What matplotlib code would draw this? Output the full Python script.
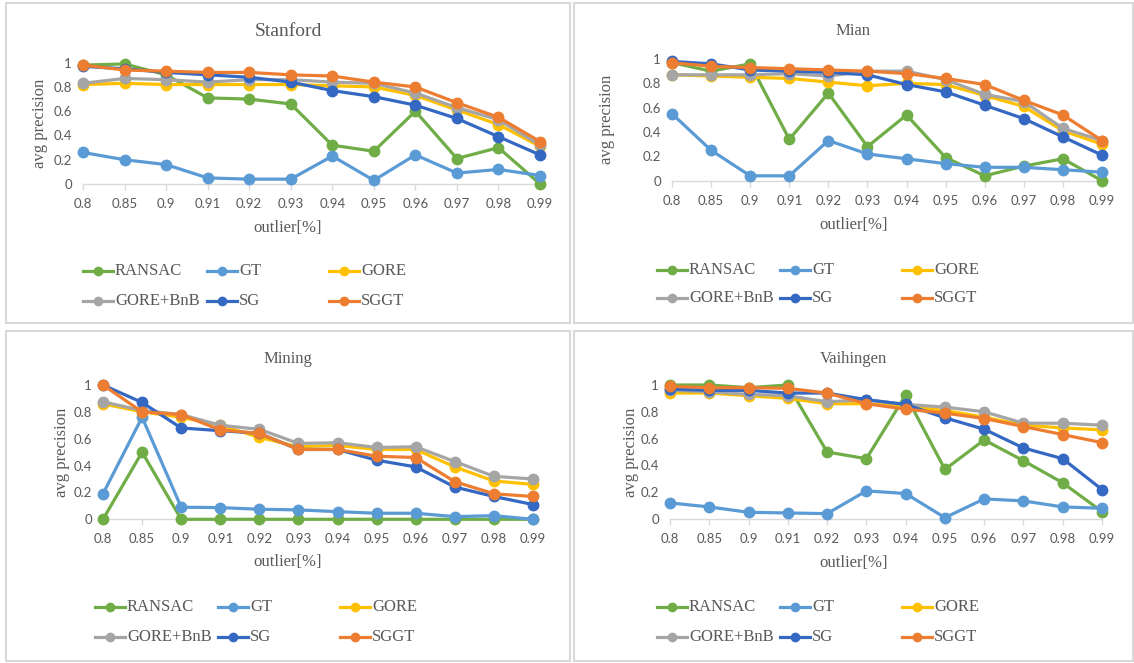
import matplotlib.pyplot as plt
from matplotlib.lines import Line2D
from matplotlib.patches import Rectangle

W, H = 1134, 663

outliers = ['0.8', '0.85', '0.9', '0.91', '0.92', '0.93', '0.94', '0.95', '0.96', '0.97', '0.98', '0.99']
methods = ['RANSAC', 'GT', 'GORE', 'GORE+BnB', 'SG', 'SGGT']
colors = ['#70AD47', '#5B9BD5', '#FFC000', '#A5A5A5', '#3568C2', '#ED7D31']

# avg precision per method, per dataset
stanford_ransac = [0.98, 0.99, 0.90, 0.71, 0.70, 0.66, 0.32, 0.27, 0.60, 0.21, 0.30, 0.00]
stanford_gt = [0.26, 0.20, 0.16, 0.05, 0.04, 0.04, 0.23, 0.03, 0.24, 0.09, 0.12, 0.07]
stanford_gore = [0.82, 0.83, 0.82, 0.82, 0.82, 0.82, 0.81, 0.80, 0.73, 0.61, 0.49, 0.31]
stanford_bnb = [0.83, 0.87, 0.86, 0.84, 0.86, 0.86, 0.84, 0.83, 0.75, 0.63, 0.53, 0.32]
stanford_sg = [0.97, 0.95, 0.92, 0.90, 0.88, 0.84, 0.77, 0.72, 0.65, 0.54, 0.39, 0.24]
stanford_sggt = [0.98, 0.94, 0.93, 0.92, 0.92, 0.90, 0.89, 0.84, 0.80, 0.67, 0.55, 0.35]

mian_ransac = [0.97, 0.90, 0.96, 0.34, 0.72, 0.28, 0.54, 0.19, 0.04, 0.12, 0.18, 0.00]
mian_gt = [0.55, 0.25, 0.04, 0.04, 0.33, 0.22, 0.18, 0.14, 0.11, 0.11, 0.09, 0.07]
mian_gore = [0.87, 0.86, 0.85, 0.84, 0.81, 0.78, 0.80, 0.79, 0.70, 0.61, 0.41, 0.30]
mian_bnb = [0.87, 0.87, 0.87, 0.88, 0.86, 0.90, 0.90, 0.83, 0.71, 0.65, 0.43, 0.33]
mian_sg = [0.98, 0.96, 0.91, 0.90, 0.89, 0.87, 0.79, 0.73, 0.62, 0.51, 0.36, 0.21]
mian_sggt = [0.97, 0.94, 0.93, 0.92, 0.91, 0.90, 0.88, 0.84, 0.79, 0.66, 0.54, 0.33]

mining_ransac = [0.00, 0.50, 0.00, 0.00, 0.00, 0.00, 0.00, 0.00, 0.00, 0.00, 0.00, 0.00]
mining_gt = [0.19, 0.76, 0.09, 0.087, 0.075, 0.07, 0.057, 0.045, 0.045, 0.02, 0.027, 0.00]
mining_gore = [0.86, 0.80, 0.76, 0.70, 0.61, 0.54, 0.55, 0.52, 0.52, 0.39, 0.285, 0.26]
mining_bnb = [0.875, 0.81, 0.78, 0.70, 0.67, 0.565, 0.57, 0.535, 0.54, 0.43, 0.32, 0.30]
mining_sg = [1.00, 0.87, 0.68, 0.66, 0.64, 0.52, 0.52, 0.44, 0.39, 0.24, 0.17, 0.11]
mining_sggt = [1.00, 0.80, 0.78, 0.665, 0.64, 0.52, 0.52, 0.47, 0.46, 0.28, 0.19, 0.17]

vaih_ransac = [1.00, 1.00, 0.98, 1.00, 0.50, 0.45, 0.925, 0.37, 0.59, 0.435, 0.27, 0.055]
vaih_gt = [0.12, 0.09, 0.05, 0.045, 0.04, 0.21, 0.19, 0.01, 0.15, 0.135, 0.09, 0.08]
vaih_gore = [0.94, 0.94, 0.92, 0.90, 0.86, 0.86, 0.84, 0.81, 0.76, 0.70, 0.68, 0.665]
vaih_bnb = [0.96, 0.95, 0.93, 0.92, 0.875, 0.89, 0.855, 0.835, 0.80, 0.715, 0.715, 0.70]
vaih_sg = [0.97, 0.96, 0.96, 0.94, 0.94, 0.89, 0.855, 0.755, 0.67, 0.53, 0.45, 0.22]
vaih_sggt = [0.99, 0.98, 0.98, 0.975, 0.94, 0.86, 0.82, 0.79, 0.75, 0.69, 0.63, 0.57]

SERIF = 'Liberation Serif'
SANS = 'Lato'
TXT = '#595959'

# name, series, frame box (px), axis box (x at first/last category, y at 0 / 1), title size,
# ylabel x, xlabel y, legend rows y, legend column x
panels = [
    ('Stanford', [stanford_ransac, stanford_gt, stanford_gore, stanford_bnb, stanford_sg, stanford_sggt],
     (6, 3, 570, 323), (83, 540, 184, 62.7), 14, 40, 228, (271, 301), (83, 207, 329)),
    ('Mian', [mian_ransac, mian_gt, mian_gore, mian_bnb, mian_sg, mian_sggt],
     (574, 3, 1133, 323), (672, 1102, 180.7, 59), 12, 607, 225, (270, 298), (657, 780, 902)),
    ('Mining', [mining_ransac, mining_gt, mining_gore, mining_bnb, mining_sg, mining_sggt],
     (6, 331, 570, 661), (103, 533, 519.3, 385), 12, 62, 562, (607, 637), (95, 218, 340)),
    ('Vaihingen', [vaih_ransac, vaih_gt, vaih_gore, vaih_bnb, vaih_sg, vaih_sggt],
     (574, 331, 1133, 661), (670, 1102, 519, 385), 12, 631, 563, (607, 637), (657, 780, 902)),
]

fig = plt.figure(figsize=(W / 100, H / 100), dpi=100)


def fx(px):
    return px / W


def fy(py):
    return 1 - py / H


for name, series, frame, box, tsize, ylab_x, xlab_y, leg_rows, leg_cols in panels:
    fl, ft, fr, fb = frame
    fig.add_artist(Rectangle((fx(fl), fy(fb)), fx(fr - fl), (fb - ft) / H, transform=fig.transFigure,
                             fill=False, edgecolor='#d9d9d9', linewidth=1.5))

    x0, x1, y0, y1 = box
    ax = fig.add_axes([fx(x0), fy(y0), fx(x1 - x0), (y0 - y1) / H])
    xs = list(range(len(outliers)))
    for vals, c in zip(series, colors):
        ax.plot(xs, vals, color=c, linewidth=2.3, marker='o', markersize=7.5, clip_on=False)
    ax.set_xlim(0, len(outliers) - 1)
    ax.set_ylim(0, 1)
    ax.set_yticks([0, 0.2, 0.4, 0.6, 0.8, 1.0])
    ax.set_yticklabels(['0', '0.2', '0.4', '0.6', '0.8', '1'])
    ax.set_xticks(xs)
    ax.set_xticklabels(outliers)
    for s in ('top', 'right', 'left'):
        ax.spines[s].set_visible(False)
    ax.spines['bottom'].set_color('#d9d9d9')
    ax.spines['bottom'].set_linewidth(1.0)
    ax.spines['bottom'].set_zorder(0)
    ax.tick_params(axis='y', length=0, pad=8, labelsize=9.5, labelcolor=TXT)
    ax.tick_params(axis='x', length=4, width=1, color='#d9d9d9', pad=6, labelsize=9.5, labelcolor=TXT)
    for lab in ax.get_xticklabels() + ax.get_yticklabels():
        lab.set_fontfamily(SANS)

    cx = (fl + fr) / 2
    fig.text(fx(cx), fy(ft + 28), name, ha='center', va='center', fontsize=tsize,
             family=SERIF, color=TXT)
    fig.text(fx(cx), fy(xlab_y), 'outlier[%]', ha='center', va='center', fontsize=12,
             family=SERIF, color=TXT)
    fig.text(fx(ylab_x), fy((y0 + y1) / 2), 'avg precision', ha='center', va='center',
             rotation=90, fontsize=12, family=SERIF, color=TXT)

    # legend: 2 rows x 3 columns
    for i, (m, c) in enumerate(zip(methods, colors)):
        r, k = divmod(i, 3)
        lx, ly = leg_cols[k], leg_rows[r]
        fig.add_artist(Line2D([fx(lx), fx(lx + 30)], [fy(ly), fy(ly)], transform=fig.transFigure,
                              color=c, linewidth=2.3))
        fig.add_artist(Line2D([fx(lx + 15)], [fy(ly)], transform=fig.transFigure,
                              color=c, marker='o', markersize=6, linestyle='none'))
        fig.text(fx(lx + 32), fy(ly), m, ha='left', va='center', fontsize=12,
                 family=SERIF, color=TXT)

fig.savefig('out.png', dpi=100)
